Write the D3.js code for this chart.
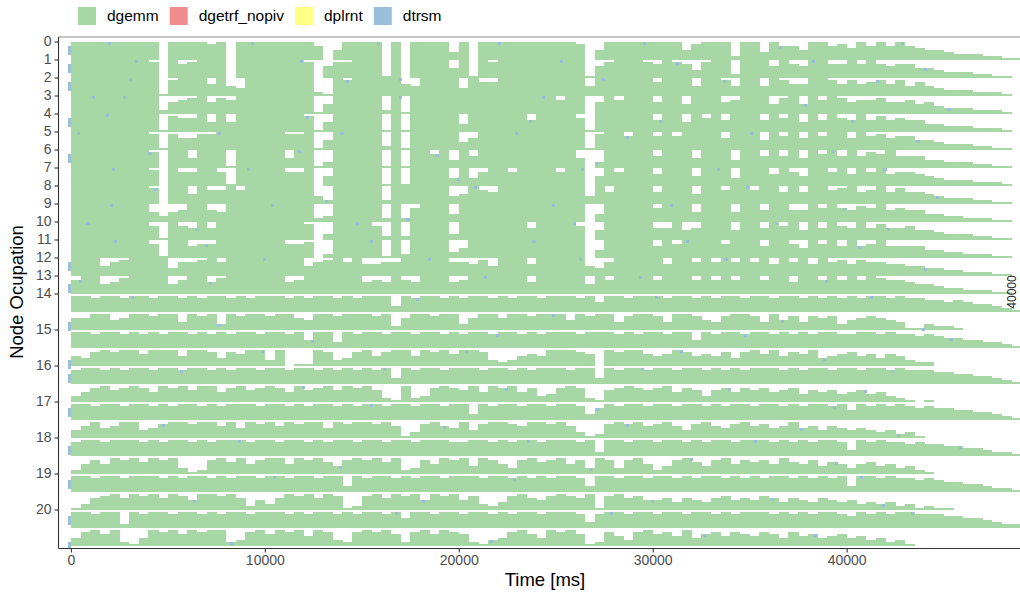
<!DOCTYPE html>
<html>
<head>
<meta charset="utf-8">
<script src="https://cdn.jsdelivr.net/npm/d3@7/dist/d3.min.js"></script>
<style>
body { margin: 0; background: #ffffff; }
svg text { font-family: "Liberation Sans", Arial, Helvetica, sans-serif; }
</style>
</head>
<body>
<div id="chart"></div>
<script>
var taskTypes = ["dgemm", "dgetrf_nopiv", "dplrnt", "dtrsm"];
var nodeIds = [0, 1, 2, 3, 4, 5, 6, 7, 8, 9, 10, 11, 12, 13, 14, 15, 16, 17, 18, 19, 20];
var nodeRows = [1, 1, 1, 1, 1, 1, 1, 1, 1, 1, 1, 1, 1, 1, 2, 2, 2, 2, 2, 2, 2];
var timeTicks = [0, 10000, 20000, 30000, 40000];
var binMs = 500;

// occupation level per 500 ms bin, 0..9 (9 = whole row busy)
var topRows = [
    "9999999990 9999890999 9999970599 9909099994 9099999999 9980599999 9995899929 9497759978 6979797655 43332211",
    "9999999980 9789990999 9999806889 9919099995 9198999999 9991689998 7987489929 9969769977 9797677554 33322110",
    "9999999991 8999695499 9999921989 9999659999 4977999999 9995999999 7999599859 9598669986 8678685754 33322210",
    "9999999992 6789687999 9999915999 9929199999 9999999999 7990697999 6995999679 9958959798 6778667564 33322210",
    "9999999991 8779595999 9999815999 9919199999 4999999699 9971999999 6995979699 9697959697 6968676644 33322210",
    "9999999981 8668899999 9988915999 9929199999 4699999999 9991899799 7979999699 9597969799 6978677554 33322110",
    "9999999980 9959991999 9959913999 9919199794 9699999999 9950399999 6999599949 9696959796 9687966644 33322110",
    "9999999980 9779971999 9977905999 9919199994 9479979999 7990597999 6999599949 9969759979 6979677654 33322210",
    "9999999980 9959779799 9999942999 9929999994 5976999999 9994969999 6999599799 7996969978 9679686654 33322110",
    "9999999953 5699659999 9999923999 9929279994 9999999999 9990499999 7999599959 9699669797 6879676644 33222110",
    "9999999971 9769699999 9999803999 9729299993 9999999699 9970599999 6695699959 9697959697 6968667554 33322110",
    "9999999971 9967799999 9977802999 9919299993 5999999999 9990499999 6979999799 9699759796 9679666644 33222110",
    "9995789999 4778979999 9999578979 6677999997 7685999699 9995479999 9699797979 7969796978 6877665544 33222110",
    "7995689999 5799689999 9967999999 6769769996 7999999699 9995979999 7999797979 9799699797 9798776554 33222110"
];

var bottomRows = [
    "8878878878 8787887878 8878788787 8883878878 7887878878 8878588788 8788787887 8878878787 8788787766 56544321",
    "6688568878 8487838788 7886588788 8782688788 3688688788 8587884788 7488754788 7485747673 5676541132 21000000",
    "8878878787 8878787887 8878488387 8878878878 7887887878 8878887878 8788487887 8878787887 7887877676 55443321",
    "5478788688 8588747688 3801187347 8578858786 8873235658 8876087886 5687565747 8685768456 7564653220 00000000",
    "7887878878 8788787887 8878878787 8783878878 8878878788 8788387887 8878878787 8887878878 8788787776 65544321",
    "3578678758 7868857867 8758678687 8621823787 6858785734 7872167876 7857636757 6756746564 5645321010 00000000",
    "8878878878 7887878887 8878788787 8878878878 8387887887 8873687887 8878878788 7887878878 5878787676 65544321",
    "4685688457 8878868587 8687885878 8786137865 8478876887 8631278786 7864786578 6756856465 4543423100 00000000",
    "7887888787 8878788878 8788787887 8878878887 7887878878 8878288788 7887878878 8878787887 3878776766 55443221",
    "2575878687 8312786857 8858786478 7868237587 8487537867 8573873785 2478647857 6758657465 3564534210 00000000",
    "8878878887 8788787887 8878878838 7887878878 8878878787 8873887887 8878788787 8788787878 3887877676 55443221",
    "1367868786 8758878625 3687868712 7868785878 5732478657 8768178675 5646546756 5764654654 5343423121 10000000",
    "8878828788 7887878878 8878788787 8878588788 7887878878 8873788788 7887887878 8878787887 6878788777 66554322",
    "4786821487 8687882378 6878587327 8786278687 6213478648 7861275378 6758467576 5764756456 4534231000 00000000"
];

// [row, start ms] of the small dtrsm tasks seen on top of the dgemm mass
var dtrsmTasks = [
    [0,-150],[0,1900],[0,9300],[0,15800],[0,22000],[0,29500],[0,36500],[0,42800],
    [1,-150],[1,3300],[1,11800],[1,25200],[1,31200],[1,38200],[1,44000],
    [2,-150],[2,3000],[2,14200],[2,16900],[2,27400],[2,33600],[2,41500],
    [3,1100],[3,2700],[3,16900],[3,24300],[3,37800],[3,45200],
    [4,-150],[4,1800],[4,12100],[4,23600],[4,30300],[4,40200],
    [5,300],[5,7600],[5,13900],[5,22900],[5,28600],[5,35000],[5,43600],
    [6,-150],[6,4000],[6,11700],[6,18800],[6,27000],[6,39200],
    [7,2100],[7,9100],[7,19900],[7,26300],[7,33300],[7,41900],
    [8,4300],[8,13100],[8,20800],[8,34800],[8,44600],
    [9,2000],[9,10300],[9,17300],[9,24800],[9,30900],[9,39800],
    [10,800],[10,6400],[10,14700],[10,25900],[10,36300],[10,42100],
    [11,2200],[11,6900],[11,15400],[11,23800],[11,31700],[11,40600],
    [12,-150],[12,9900],[12,18400],[12,26200],[12,33700],[12,44000],
    [13,-150],[13,400],[13,7100],[13,21300],[13,29300],[13,38900],
    [14,3100],[14,17800],[14,30100],[14,41200],
    [15,-150],[15,7600],[15,24800],[15,36600],[15,43900],
    [16,12400],[16,21900],[16,34700],[16,45300],
    [17,-150],[17,9800],[17,20300],[17,31400],[17,38800],
    [18,-150],[18,5600],[18,16100],[18,29400],[18,42300],
    [19,11900],[19,22400],[19,33900],[19,40900],
    [20,-150],[20,15400],[20,27100],[20,39300],
    [21,4700],[21,19200],[21,28600],[21,37600],[21,42600],
    [22,-150],[22,8600],[22,23500],[22,35200],[22,45800],
    [23,13800],[23,26700],[23,31900],[23,39400],
    [24,-150],[24,10400],[24,22800],[24,40700],
    [25,6300],[25,18100],[25,29900],[25,36100],[25,41800],
    [26,-150],[26,16700],[26,27800],[26,43300],
    [27,-150],[27,8200],[27,21600],[27,32600],[27,38300]
];

var colors = {
    dgemm: "#a6d7a4",
    dgetrf_nopiv: "#f18c8d",
    dplrnt: "#ffff85",
    dtrsm: "#9bbedb"
};

var width = 1020;
var height = 592;
var panelLeft = 58.5;
var panelTop = 37;
var panelBottom = 548.5;
var rowTop = 41.5;
var rowHeight = 18;
var axisColor = "#333333";
var tickTextColor = "#4d4d4d";

var svg = d3.select("#chart").append("svg")
    .attr("width", width)
    .attr("height", height);

var rows = topRows.concat(bottomRows).map(s => s.replace(/ /g, "").split("").map(Number));

var x = d3.scaleLinear().domain([-640, 48940]).range([panelLeft, width]);
var y = d3.scaleLinear().domain([0, rows.length]).range([rowTop, rowTop + rows.length * rowHeight]);
var level = d3.scaleLinear().domain([0, 9]).range([0, rowHeight]);

var rowStart = [];
var acc = 0;
nodeRows.forEach(n => {
    rowStart.push(acc);
    acc += n;
});

svg.append("defs").append("clipPath").attr("id", "panel")
    .append("rect")
    .attr("x", panelLeft).attr("y", panelTop)
    .attr("width", width - panelLeft).attr("height", panelBottom - panelTop);

var cells = [];
rows.forEach((r, ri) => {
    r.forEach((lv, bi) => {
        if (lv > 0) cells.push({row: ri, bin: bi, lv: lv});
    });
});

var plot = svg.append("g").attr("clip-path", "url(#panel)");

plot.selectAll("rect.dgemm")
    .data(cells).enter().append("rect")
    .attr("class", "dgemm")
    .attr("x", d => x(d.bin * binMs))
    .attr("width", d => x((d.bin + 1) * binMs) - x(d.bin * binMs) + 0.4)
    .attr("y", d => y(d.row + 1) - level(d.lv))
    .attr("height", d => level(d.lv))
    .attr("fill", colors.dgemm)
    .attr("shape-rendering", "crispEdges");

plot.selectAll("rect.dtrsm")
    .data(dtrsmTasks.filter(d => rows[d[0]][Math.max(0, Math.floor(d[1] / binMs))] > 0))
    .enter().append("rect")
    .attr("class", "dtrsm")
    .attr("x", d => x(d[1]))
    .attr("width", d => x(d[1] + 160) - x(d[1]))
    .attr("y", d => {
        var lv = rows[d[0]][Math.max(0, Math.floor(d[1] / binMs))];
        var top = y(d[0] + 1) - level(lv);
        return d[1] < 0 ? top + 4 : top;
    })
    .attr("height", d => d[1] < 0 ? rowHeight * 0.55 : 3)
    .attr("fill", colors.dtrsm)
    .attr("shape-rendering", "crispEdges");

// panel lines
svg.append("line")
    .attr("x1", panelLeft).attr("x2", width)
    .attr("y1", panelTop).attr("y2", panelTop)
    .attr("stroke", "#8c8c8c").attr("stroke-width", 1.2);
svg.append("line")
    .attr("x1", panelLeft).attr("x2", panelLeft)
    .attr("y1", panelTop).attr("y2", panelBottom)
    .attr("stroke", axisColor).attr("stroke-width", 1.1);
svg.append("line")
    .attr("x1", panelLeft).attr("x2", width)
    .attr("y1", panelBottom).attr("y2", panelBottom)
    .attr("stroke", axisColor).attr("stroke-width", 1.1);

var yAxis = svg.append("g")
    .attr("transform", "translate(" + panelLeft + ",0)")
    .call(d3.axisLeft(y).tickValues(rowStart).tickFormat((d, i) => nodeIds[i])
        .tickSize(4).tickPadding(3).tickSizeOuter(0));

var xAxis = svg.append("g")
    .attr("transform", "translate(0," + panelBottom + ")")
    .call(d3.axisBottom(x).tickValues(timeTicks).tickFormat(d3.format("d"))
        .tickSize(4).tickPadding(3).tickSizeOuter(0));

[yAxis, xAxis].forEach(g => {
    g.select(".domain").remove();
    g.selectAll(".tick line").attr("stroke", axisColor).attr("stroke-width", 1.1);
    g.selectAll(".tick text").attr("fill", tickTextColor).style("font-size", "14px")
        .style("font-family", "'Liberation Sans', Arial, sans-serif");
});

svg.append("text")
    .attr("x", 545).attr("y", 586)
    .attr("text-anchor", "middle")
    .style("font-size", "18.5px")
    .attr("fill", "#000")
    .text("Time [ms]");

svg.append("text")
    .attr("transform", "translate(23,292) rotate(-90)")
    .attr("text-anchor", "middle")
    .style("font-size", "18.5px")
    .attr("fill", "#000")
    .text("Node Ocupation");

// label sitting on the right border
svg.append("text")
    .attr("transform", "translate(1015.5,292) rotate(-90)")
    .attr("text-anchor", "middle")
    .style("font-size", "12px")
    .attr("fill", "#1a1a1a")
    .text("40000");

// legend
var lx = 78;
taskTypes.forEach(t => {
    svg.append("rect")
        .attr("x", lx).attr("y", 7)
        .attr("width", 18).attr("height", 18)
        .attr("fill", colors[t]);
    var txt = svg.append("text")
        .attr("x", lx + 29).attr("y", 21)
        .style("font-size", "15.5px")
        .attr("fill", "#000")
        .text(t);
    lx = lx + 29 + txt.node().getComputedTextLength() + 11;
});
</script>
</body>
</html>
